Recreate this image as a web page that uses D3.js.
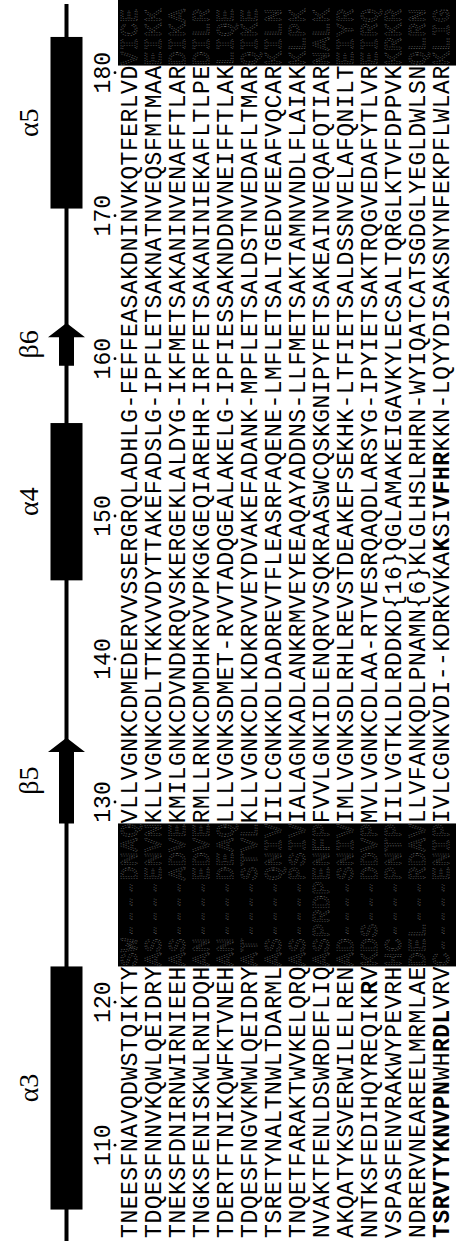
<!DOCTYPE html>
<html><head><meta charset="utf-8">
<script src="https://cdn.jsdelivr.net/npm/d3@7"></script>
<style>html,body{margin:0;padding:0;background:#fff;} svg{display:block;}</style>
</head><body>
<script>
// ---- data: alignment rows (reading from bottom to top in the figure) ----
const blockA = [
  "TNEESFNAVQDWSTQIKTY","TDQESFNNVKQWLQEIDRY","TNEKSFDNIRNWIRNIEEH","TNGKSFENISKWLRNIDQH",
  "TDERTFTNIKQWFKTVNEH","TDQESFNGVKMWLQEIDRY","TSRETYNALTNWLTDARML","TNQETFARAKTWVKELQRQ",
  "NVAKTFENLDSWRDEFLIQ","AKQATYKSVERWILELREN","NNTKSFEDIHQYREQIKRV","VSPASFENVRAKWYPEVRH",
  "NDRERVNEAREELMRMLAE","TSRVTYKNVPNWHRDLVRV"];
const shade1 = [
  "SW----DNAQ","AS----ENVN","AS----ADVE","AN----EDVE","AN----DEAQ","AT----STVL","AS----QNIV",
  "AS----PSIV","ASPRDPENFP","AD----SNIV","KDS---DDVP","HC----PNTP","DEL---RDAV","C-----ENIP"];
const blockB = [
  "VLLVGNKCDMEDERVVSSERGRQLADHLG-FEFFEASAKDNINVKQTFERLVD",
  "KLLVGNKCDLTTKKVVDYTTAKEFADSLG-IPFLETSAKNATNVEQSFMTMAA",
  "KMILGNKCDVNDKRQVSKERGEKLALDYG-IKFMETSAKANINVENAFFTLAR",
  "RMLLRNKCDMDHKRVVPKGKGEQIAREHR-IRFFETSAKANINIEKAFLTLPE",
  "LLLVGNKSDMET-RVVTADQGEALAKELG-IPFIESSAKNDDNVNEIFFTLAK",
  "KLLVGNKCDLKDKRVVEYDVAKEFADANK-MPFLETSALDSTNVEDAFLTMAR",
  "IILCGNKKDLDADREVTFLEASRFAQENE-LMFLETSALTGEDVEEAFVQCAR",
  "IALAGNKADLANKRMVEYEEAQAYADDNS-LLFMETSAKTAMNVNDLFLAIAK",
  "FVVLGNKIDLENQRVVSQKRAASWCQSKGNIPYFETSAKEAINVEQAFQTIAR",
  "IMLVGNKSDLRHLREVSTDEAKEFSEKHK-LTFIETSALDSSNVELAFQNILT",
  "MVLVGNKCDLAA-RTVESRQAQDLARSYG-IPYIETSAKTRQGVEDAFYTLVR",
  "IILVGTKLDLRDDKD{16}QGLAMAKEIGAVKYLECSALTQRGLKTVFDPPVK",
  "LLVFANKQDLPNAMN{6}KLGLHSLRHRN-WYIQATCATSGDGLYEGLDWLSN",
  "IVLCGNKVDI--KDRKVKAKSIVFHRKKN-LQYYDISAKSNYNFEKPFLWLAR"];
const shade2 = ["VICE","EIKK","DIKA","DILR","LIQE","QIKE","KILN",
  "KLPK","NALK","EIYR","EIRQ","KRKR","QLRN","KLIG"];
// bold residues: [row, column]
const boldRow = [13,13,13,13,13,13,13,13,13,13,13,13,13,13,10,13,13,13,13,13];
const boldCol = [0,1,2,3,4,5,6,7,8,9,10,13,14,15,17,48,51,52,53,54];
// shaded (boxed) alignment column ranges
const shadeFrom = [19, 82];
const shadeTo   = [28, 86];
// residue numbering
const tickLabels = [110,120,130,140,150,160,170,180];
const tickCols   = [6,16,30,40,50,61,71,81];
// secondary structure (in alignment columns)
const ssLabels = ["α3","β5","α4","β6","α5"];
const ssTypes  = ["helix","strand","helix","strand","helix"];
const ssStart  = [2,29,46,61,72];
const ssEnd    = [18,34,56,63,83];
const backbone = [-0.8, 85.8];

// ---- drawing ----
const W = 456, H = 1241;
const nRows = blockA.length;
const rows = d3.range(nRows).map(i => blockA[i] + shade1[i] + blockB[i] + shade2[i]);

const y = d3.scaleLinear().domain([0, 86]).range([1231, 1231 - 86 * 14.3]);
const x = d3.scaleBand().domain(d3.range(nRows)).range([118, 454]);
const xc = i => x(i) + x.bandwidth() / 2;

const svg = d3.select("body").append("svg").attr("width", W).attr("height", H)
  .style("background", "#fff");

const mono = "'Courier New','Liberation Mono',monospace";
const fs = 23;
const capShift = 7;

// shaded blocks
svg.append("g").selectAll("rect").data(shadeFrom).join("rect")
  .attr("x", x.range()[0])
  .attr("width", W - x.range()[0])
  .attr("y", (d, i) => Math.max(0, y(shadeTo[i] + 0.5)))
  .attr("height", (d, i) => y(d - 0.5) - Math.max(0, y(shadeTo[i] + 0.5)))
  .attr("fill", "#000");

const isShaded = c => shadeFrom.some((f, i) => c >= f && c <= shadeTo[i]);
const boldSet = new Set(boldRow.map((r, i) => r + ":" + boldCol[i]));

const cells = [];
rows.forEach((s, r) => s.split("").forEach((ch, c) => cells.push({r, c, ch})));

svg.append("g").selectAll("text").data(cells).join("text")
  .attr("transform", d => `translate(${xc(d.r) + capShift},${y(d.c)}) rotate(-90)`)
  .attr("text-anchor", "middle")
  .attr("font-family", mono)
  .attr("font-size", fs)
  .attr("font-weight", d => boldSet.has(d.r + ":" + d.c) ? "bold" : "normal")
  .attr("fill", d => isShaded(d.c) ? "none" : "#000")
  .attr("stroke", d => isShaded(d.c) ? "#fff" : null)
  .attr("stroke-width", d => isShaded(d.c) ? 0.6 : null)
  .attr("stroke-dasharray", d => isShaded(d.c) ? "1 1.6" : null)
  .attr("opacity", d => isShaded(d.c) ? 0.45 : 1)
  .text(d => d.ch);

// residue numbers + dots
const tg = svg.append("g");
tg.selectAll("text").data(tickLabels).join("text")
  .attr("transform", (d, i) => `translate(110,${y(tickCols[i])}) rotate(-90)`)
  .attr("text-anchor", "middle")
  .attr("font-family", mono)
  .attr("font-size", fs)
  .attr("fill", "#000")
  .text(d => d);
tg.selectAll("circle").data(tickLabels).join("circle")
  .attr("cx", 115).attr("cy", (d, i) => y(tickCols[i])).attr("r", 1.4).attr("fill", "#000");

// secondary structure
const cx = 66.5;
svg.append("line").attr("x1", cx).attr("x2", cx)
  .attr("y1", y(backbone[0])).attr("y2", y(backbone[1]))
  .attr("stroke", "#000").attr("stroke-width", 4);

const ss = ssLabels.map((l, i) => ({l, t: ssTypes[i], s: ssStart[i], e: ssEnd[i]}));
svg.append("g").selectAll("rect").data(ss.filter(d => d.t === "helix")).join("rect")
  .attr("x", cx - 16).attr("width", 32)
  .attr("y", d => y(d.e + 0.5)).attr("height", d => y(d.s - 0.5) - y(d.e + 0.5))
  .attr("fill", "#000");
svg.append("g").selectAll("path").data(ss.filter(d => d.t === "strand")).join("path")
  .attr("d", d => {
    const y0 = y(d.s - 0.5), yb = y(d.e - 0.5), yt = y(d.e + 0.5);
    const sw = 7.5, hw = 18.5;
    return `M${cx - sw},${y0}L${cx - sw},${yb}L${cx - hw},${yb}L${cx},${yt}L${cx + hw},${yb}L${cx + sw},${yb}L${cx + sw},${y0}Z`;
  })
  .attr("fill", "#000");
svg.append("g").selectAll("text").data(ss).join("text")
  .attr("transform", d => `translate(38,${(y(d.s - 0.5) + y(d.e + 0.5)) / 2}) rotate(-90)`)
  .attr("text-anchor", "middle")
  .attr("font-family", "'Liberation Serif','DejaVu Serif',serif")
  .attr("font-size", 28)
  .attr("fill", "#000")
  .text(d => d.l);
</script>
</body></html>
